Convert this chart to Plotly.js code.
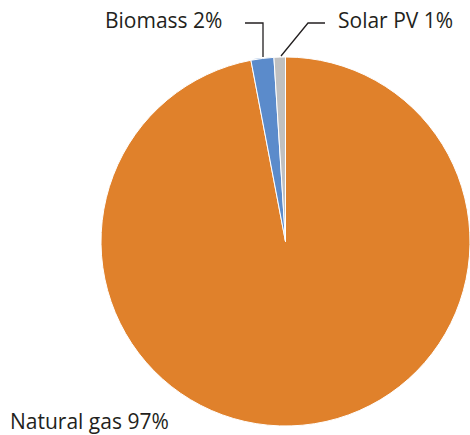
<!DOCTYPE html>
<html>
<head>
<meta charset="utf-8">
<script src="https://cdn.plot.ly/plotly-3.0.1.min.js"></script>
<style>
  html, body { margin: 0; padding: 0; background: #fff; }
  #chart { width: 470px; height: 435px; }
</style>
</head>
<body>
<div id="chart"></div>
<script>
// energy sources, clockwise from 12 o'clock
const sources = ["Natural gas", "Biomass", "Solar PV"];
const shares = [97, 2, 1];
const colors = ["#E0812B", "#5B8BCB", "#C0C0C0"];

const W = 470, H = 435;
// pixel -> paper helpers
const px = (x) => x / W;
const py = (y) => 1 - y / H;

const labelFont = { family: "Open Sans, Noto Sans, sans-serif", size: 21, color: "#231F20" };

const trace = {
  type: "pie",
  labels: sources,
  values: shares,
  sort: false,
  direction: "clockwise",
  rotation: 0,
  textinfo: "none",
  hoverinfo: "label+percent",
  marker: { colors: colors, line: { color: "#ffffff", width: 1 } },
  domain: { x: [px(101), 1], y: [py(426), py(57)] },
  showlegend: false,
};

// labels with leader lines
const annotations = [
  { text: sources[1] + " " + shares[1] + "%", x: px(103), y: py(20), xanchor: "left", yanchor: "middle" },
  { text: sources[2] + " " + shares[2] + "%", x: px(336), y: py(20), xanchor: "left", yanchor: "middle" },
  { text: sources[0] + " " + shares[0] + "%", x: px(8), y: py(421), xanchor: "left", yanchor: "middle" },
].map((a) => Object.assign({ xref: "paper", yref: "paper", showarrow: false, font: labelFont }, a));

const line = { color: "#231F20", width: 1.3 };
const shapes = [
  { type: "path", path: `M ${px(245)} ${py(23)} L ${px(263)} ${py(23)} L ${px(263)} ${py(57)}` },
  { type: "path", path: `M ${px(325)} ${py(23)} L ${px(308)} ${py(23)} L ${px(281)} ${py(56)}` },
].map((s) => Object.assign({ xref: "paper", yref: "paper", line: line }, s));

const layout = {
  width: W,
  height: H,
  margin: { l: 0, r: 0, t: 0, b: 0 },
  paper_bgcolor: "#ffffff",
  annotations: annotations,
  shapes: shapes,
};

Plotly.newPlot("chart", [trace], layout, { displayModeBar: false, staticPlot: true });
</script>
</body>
</html>
